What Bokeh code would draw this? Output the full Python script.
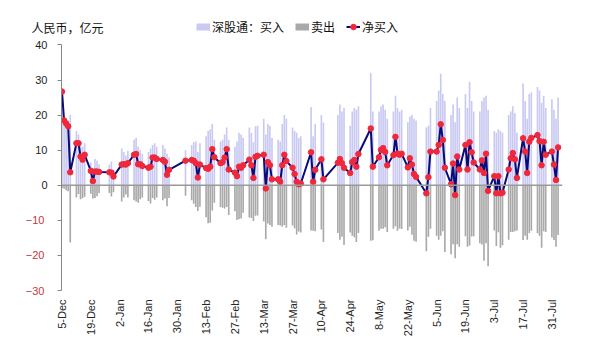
import pandas as pd
from datetime import datetime
from bokeh.plotting import figure
from bokeh.models import (ColumnDataSource, Range1d, FixedTicker, Span,
                          Legend, LegendItem, LinearAxis, CDSView, IndexFilter)
from bokeh.embed import file_html
from bokeh.resources import INLINE

# ---------------- data ----------------
dates = [
    "2016-12-05", "2016-12-06", "2016-12-07", "2016-12-08", "2016-12-09",
    "2016-12-12", "2016-12-13", "2016-12-14", "2016-12-15", "2016-12-16",
    "2016-12-19", "2016-12-20", "2016-12-21", "2016-12-22", "2016-12-23",
    "2016-12-28", "2016-12-29", "2016-12-30",
    "2017-01-03", "2017-01-04", "2017-01-05", "2017-01-06",
    "2017-01-09", "2017-01-10", "2017-01-11", "2017-01-12", "2017-01-13",
    "2017-01-16", "2017-01-17", "2017-01-18", "2017-01-19", "2017-01-20",
    "2017-01-23", "2017-01-24", "2017-01-25", "2017-01-26",
    "2017-02-03",
    "2017-02-06", "2017-02-07", "2017-02-08", "2017-02-09", "2017-02-10",
    "2017-02-13", "2017-02-14", "2017-02-15", "2017-02-16", "2017-02-17",
    "2017-02-20", "2017-02-21", "2017-02-22", "2017-02-23", "2017-02-24",
    "2017-02-27", "2017-02-28", "2017-03-01", "2017-03-02", "2017-03-03",
    "2017-03-06", "2017-03-07", "2017-03-08", "2017-03-09", "2017-03-10",
    "2017-03-13", "2017-03-14", "2017-03-15", "2017-03-16", "2017-03-17",
    "2017-03-20", "2017-03-21", "2017-03-22", "2017-03-23", "2017-03-24",
    "2017-03-27", "2017-03-28", "2017-03-29", "2017-03-30", "2017-03-31",
    "2017-04-05", "2017-04-06", "2017-04-07",
    "2017-04-10", "2017-04-11",
    "2017-04-18", "2017-04-19", "2017-04-20", "2017-04-21",
    "2017-04-24", "2017-04-25", "2017-04-26", "2017-04-27", "2017-04-28",
    "2017-05-04", "2017-05-05",
    "2017-05-08", "2017-05-09", "2017-05-10", "2017-05-11", "2017-05-12",
    "2017-05-15", "2017-05-16", "2017-05-17", "2017-05-18", "2017-05-19",
    "2017-05-22", "2017-05-23", "2017-05-24", "2017-05-25", "2017-05-26",
    "2017-05-31", "2017-06-01", "2017-06-02",
    "2017-06-05", "2017-06-06", "2017-06-07", "2017-06-08", "2017-06-09",
    "2017-06-12", "2017-06-13", "2017-06-14", "2017-06-15", "2017-06-16",
    "2017-06-19", "2017-06-20", "2017-06-21", "2017-06-22", "2017-06-23",
    "2017-06-26", "2017-06-27", "2017-06-28", "2017-06-29", "2017-06-30",
    "2017-07-03", "2017-07-04", "2017-07-05", "2017-07-06", "2017-07-07",
    "2017-07-10", "2017-07-11", "2017-07-12", "2017-07-13", "2017-07-14",
    "2017-07-17", "2017-07-18", "2017-07-19", "2017-07-20", "2017-07-21",
    "2017-07-24", "2017-07-25", "2017-07-26", "2017-07-27", "2017-07-28",
    "2017-07-31", "2017-08-01", "2017-08-02", "2017-08-03",
]

buy = [
    27.5, 19.5, 19.0, 18.5, 20.0,
    15.5, 14.5, 12.2, 11.0, 12.0,
    6.5, 5.0, 7.5, 7.0, 6.0,
    5.9, 6.8, 4.5,
    10.5, 9.5, 8.5, 9.8,
    13.0, 13.5, 11.0, 10.0, 9.0,
    9.5, 10.5, 11.5, 12.0, 11.0,
    11.5, 10.5, 9.0, 8.0,
    10.0,
    11.5, 12.3, 12.5, 9.5, 12.0,
    14.0, 15.5, 16.0, 17.5, 13.0,
    12.5, 13.0, 14.5, 16.5, 13.0,
    11.0, 12.5, 15.0, 14.5, 13.5,
    16.5, 15.0, 12.3, 16.8, 17.0,
    19.0, 14.5, 17.5, 17.0, 13.5,
    13.0, 12.5, 17.5, 20.0, 19.0,
    16.5, 15.5, 15.0, 13.5, 14.0,
    22.3, 14.0, 17.5,
    20.0, 17.9,
    20.0, 23.0, 21.0, 22.0,
    17.0, 21.0, 22.0, 21.5, 22.5,
    32.0, 21.0,
    21.0, 22.5, 23.0, 21.5, 19.0,
    21.0, 25.5, 22.0, 21.0, 21.5,
    18.0, 19.5, 20.0, 19.0, 18.5,
    16.5, 17.0, 22.0,
    24.0, 27.0, 31.8, 26.0, 24.0,
    20.0, 23.0, 18.0, 25.0, 22.0,
    26.0, 22.0, 29.5, 24.0, 21.0,
    21.0, 24.0, 25.0, 25.5, 21.5,
    15.5, 15.0, 16.0, 15.5, 15.0,
    20.0, 21.0, 22.5, 20.5, 15.0,
    29.0, 24.0, 19.0, 26.0, 26.5,
    28.0, 27.0, 23.5, 25.5, 22.0,
    24.5, 21.5, 19.0, 25.0,
]

sell = [
    -0.8, -1.0, -1.4, -1.7, -16.3,
    -3.5, -2.5, -4.0, -3.7, -3.3,
    -2.4, -3.8, -3.6, -3.1, -2.2,
    -2.2, -3.2, -2.0,
    -4.6, -3.5, -2.6, -3.5,
    -4.3, -4.6, -5.0, -4.0, -3.5,
    -4.5, -5.2, -3.6, -4.1, -3.5,
    -4.3, -3.8, -6.0, -3.6,
    -3.0,
    -4.3, -5.3, -6.2, -7.3, -6.1,
    -9.1, -10.8, -10.7, -7.2, -5.0,
    -6.2, -6.4, -6.6, -6.2, -8.5,
    -7.4, -9.9, -9.7, -9.5, -7.8,
    -9.2, -9.3, -10.2, -8.7, -8.6,
    -10.3, -15.4, -10.9, -11.3, -11.8,
    -11.3, -11.5, -11.8, -11.3, -12.1,
    -11.5, -12.3, -14.0, -13.2, -13.5,
    -12.9, -13.0, -13.1,
    -12.6, -16.2,
    -13.6, -15.5, -14.7, -17.0,
    -13.5, -14.4, -14.8, -16.2, -13.6,
    -15.8, -15.7,
    -13.0, -12.4, -12.4, -12.0, -13.3,
    -12.4, -11.7, -13.0, -12.3, -12.5,
    -12.9, -11.8, -14.1, -15.8, -16.1,
    -18.8, -14.7, -12.4,
    -14.4, -15.5, -14.4, -13.1, -19.0,
    -19.7, -16.8, -20.8, -16.8, -17.5,
    -14.5, -17.5, -17.2, -14.6, -14.5,
    -16.5, -16.9, -21.5, -16.5, -23.1,
    -12.9, -17.3, -13.4, -17.8, -17.1,
    -15.5, -13.3, -13.3, -13.1, -12.9,
    -15.6, -14.4, -15.5, -13.6, -13.0,
    -13.7, -14.4, -17.8, -13.1, -13.3,
    -14.9, -15.6, -17.5, -14.2,
]

net = [
    26.7, 18.5, 17.6, 16.8, 3.7,
    12.0, 12.0, 8.2, 7.3, 8.7,
    4.1, 1.2, 3.9, 3.9, 3.8,
    3.7, 3.6, 2.5,
    5.9, 6.0, 5.9, 6.3,
    8.7, 8.9, 6.0, 6.0, 5.5,
    5.0, 5.3, 7.9, 7.9, 7.5,
    7.2, 6.7, 3.0, 4.4,
    7.0,
    7.2, 7.0, 6.3, 2.2, 5.9,
    4.9, 4.7, 5.3, 10.3, 8.0,
    6.3, 6.6, 7.9, 10.3, 4.5,
    3.6, 2.6, 5.3, 5.0, 5.7,
    7.3, 5.7, 2.1, 8.1, 8.4,
    8.7, -0.9, 6.6, 5.7, 1.7,
    1.7, 1.0, 5.7, 8.7, 6.9,
    5.0, 3.2, 1.0, 0.3, 0.5,
    9.4, 1.0, 4.4,
    7.4, 1.7,
    6.4, 7.5, 6.3, 5.0,
    3.5, 6.6, 7.2, 5.3, 8.9,
    16.2, 5.3,
    8.0, 10.1, 10.6, 9.5, 5.7,
    8.6, 13.8, 9.0, 8.7, 9.0,
    5.1, 7.7, 5.9, 3.2, 2.4,
    -2.3, 2.3, 9.6,
    9.6, 11.5, 17.4, 12.9, 5.0,
    0.3, 6.2, -2.8, 8.2, 4.5,
    11.5, 4.5, 12.3, 9.4, 6.5,
    4.5, 7.1, 3.5, 9.0, -1.6,
    2.6, -2.3, 2.6, -2.3, -2.1,
    4.5, 7.7, 9.2, 7.4, 2.1,
    13.4, 9.6, 3.5, 12.4, 13.5,
    14.3, 12.6, 5.7, 12.4, 8.7,
    9.6, 5.9, 1.5, 10.8,
]

x_tick_dates = ["2016-12-05", "2016-12-19", "2017-01-02", "2017-01-16",
                "2017-01-30", "2017-02-13", "2017-02-27", "2017-03-13",
                "2017-03-27", "2017-04-10", "2017-04-24", "2017-05-08",
                "2017-05-22", "2017-06-05", "2017-06-19", "2017-07-03",
                "2017-07-17", "2017-07-31"]
x_tick_labels = ["5-Dec", "19-Dec", "2-Jan", "16-Jan", "30-Jan", "13-Feb",
                 "27-Feb", "13-Mar", "27-Mar", "10-Apr", "24-Apr", "8-May",
                 "22-May", "5-Jun", "19-Jun", "3-Jul", "17-Jul", "31-Jul"]
y_ticks = [-30, -20, -10, 0, 10, 20, 30, 40]

series_names = ["深股通：买入", "卖出", "净买入"]
unit_title = "人民币，亿元"
unit_title_level = 45.05      # vertical place of the unit caption, in axis units

BUY_C = "#c9c9f2"
SELL_C = "#a9a9a9"
LINE_C = "#0a0a78"
DOT_C = "#f0283c"
NEG_C = "#c03a3a"

# ---------------- figure ----------------
src = ColumnDataSource(dict(x=pd.to_datetime(dates), buy=buy, sell=sell, net=net))

p = figure(width=584, height=339, x_axis_type="datetime",
           x_range=Range1d(datetime(2016, 12, 4, 18), datetime(2017, 8, 5, 3, 36)),
           y_range=Range1d(-30, 48.4),
           output_backend="svg", toolbar_location=None,
           min_border_left=61, min_border_right=22,
           min_border_top=15, min_border_bottom=44)
p.outline_line_color = None
p.grid.visible = False
p.background_fill_color = "white"

bar_w = 0.8 * 86400000
r_buy = p.vbar(x="x", top="buy", bottom=0, width=bar_w, source=src,
               fill_color=BUY_C, line_color=None)
r_sell = p.vbar(x="x", top="sell", bottom=0, width=bar_w, source=src,
                fill_color=SELL_C, line_color=None)

zero = Span(location=0, dimension="width", line_color="#9a9a9a",
            line_width=1.5, level="glyph")
p.add_layout(zero)

r_line = p.line(x="x", y="net", source=src, line_color=LINE_C, line_width=2)
r_pts = p.scatter(x="x", y="net", source=src, marker="circle", size=5.5,
                  fill_color=DOT_C, line_color=DOT_C)

# legend keys: a one-row view of the same data (a single-point line draws
# nothing on the plot, but gives the legend a 14x7 swatch)
k_buy = p.line(x="x", y="buy", source=src, view=CDSView(filter=IndexFilter(indices=[0])),
               line_color=BUY_C, line_width=7)
k_sell = p.line(x="x", y="sell", source=src, view=CDSView(filter=IndexFilter(indices=[0])),
                line_color=SELL_C, line_width=7)

# y axis (black labels for 0..40)
yax = p.yaxis[0]
yax.ticker = FixedTicker(ticks=y_ticks)
yax.bounds = (min(y_ticks), max(y_ticks))
yax.major_label_overrides = {v: "" for v in y_ticks if v < 0}
yax.axis_line_color = "#868686"
yax.major_tick_line_color = "#868686"
yax.major_tick_in = 0
yax.major_tick_out = 4
yax.minor_tick_line_color = None
yax.major_label_standoff = 10
yax.major_label_text_font = "Liberation Sans"
yax.major_label_text_font_size = "11px"
yax.major_label_text_color = "#1e1e1e"

# second left axis that carries only the red negative labels
neg_ax = LinearAxis(ticker=FixedTicker(ticks=[v for v in y_ticks if v < 0]))
neg_ax.axis_line_color = None
neg_ax.major_tick_line_color = None
neg_ax.minor_tick_line_color = None
neg_ax.major_tick_in = 0
neg_ax.major_tick_out = 0
neg_ax.major_label_standoff = -12
neg_ax.major_label_text_font = "Liberation Sans"
neg_ax.major_label_text_font_size = "11px"
neg_ax.major_label_text_color = NEG_C
p.add_layout(neg_ax, "left")

# third left axis: carries the unit caption at the top-left corner
cap_ax = LinearAxis(ticker=FixedTicker(ticks=[unit_title_level]))
cap_ax.major_label_overrides = {unit_title_level: "\u3000" + unit_title}
cap_ax.axis_line_color = None
cap_ax.major_tick_line_color = None
cap_ax.minor_tick_line_color = None
cap_ax.major_tick_in = 0
cap_ax.major_tick_out = 0
cap_ax.major_label_standoff = -81
cap_ax.major_label_text_font = "Noto Sans CJK SC"
cap_ax.major_label_text_font_size = "12px"
cap_ax.major_label_text_color = "#111111"
p.add_layout(cap_ax, "left")

# x axis
xax = p.xaxis[0]
tick_ms = [int(t.value // 10**6) for t in pd.to_datetime(x_tick_dates)]
xax.ticker = FixedTicker(ticks=tick_ms)
xax.major_label_overrides = {t: lab for t, lab in zip(tick_ms, x_tick_labels)}
xax.axis_line_color = None
xax.major_tick_line_color = None
xax.minor_tick_line_color = None
xax.major_tick_in = 0
xax.major_tick_out = 0
xax.major_label_standoff = 9
xax.major_label_orientation = 3.14159265 / 2
xax.major_label_text_font = "Liberation Sans"
xax.major_label_text_font_size = "11px"
xax.major_label_text_color = "#262626"

# legend row at the top of the plot
legend = Legend(items=[LegendItem(label=series_names[0], renderers=[k_buy]),
                       LegendItem(label=series_names[1], renderers=[k_sell]),
                       LegendItem(label=series_names[2], renderers=[r_line, r_pts])],
                orientation="horizontal", location=(135, 255),
                glyph_width=14, glyph_height=17, label_height=17,
                label_standoff=2, spacing=11, padding=0, margin=0,
                background_fill_alpha=0, border_line_color=None,
                label_text_font="Noto Sans CJK SC", label_text_font_size="12px",
                label_text_color="#111111")
p.add_layout(legend)

open("out.html", "w").write(file_html(p, INLINE))
